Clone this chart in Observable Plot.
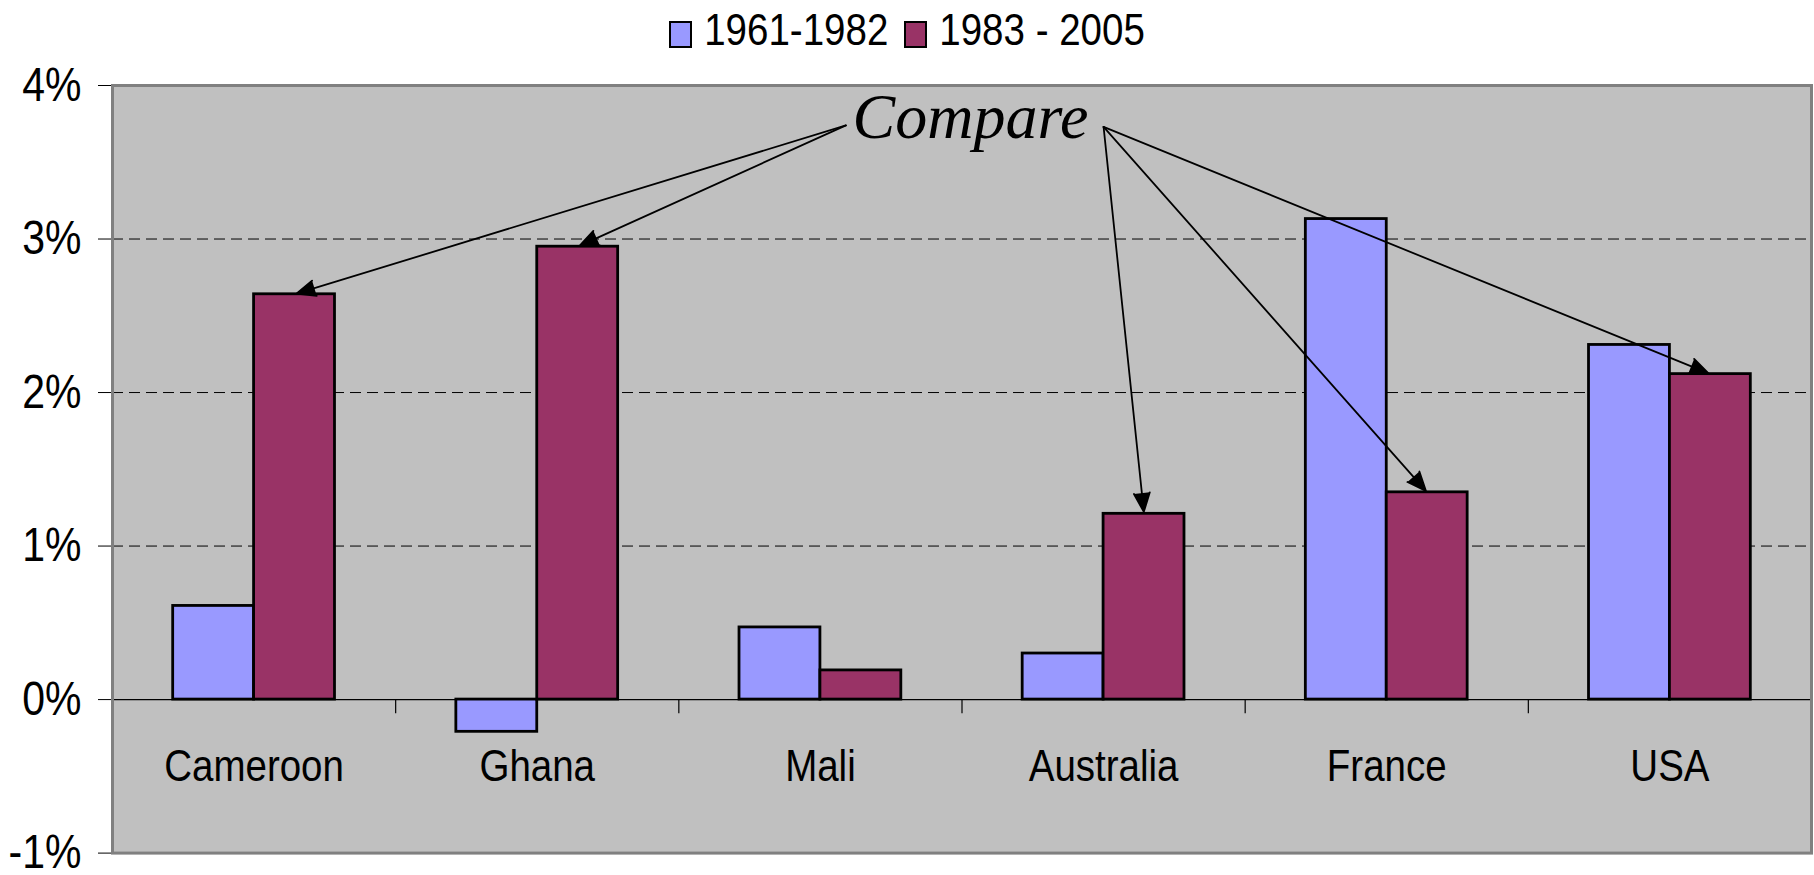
<!DOCTYPE html>
<html>
<head>
<meta charset="utf-8">
<script src="https://cdn.jsdelivr.net/npm/d3@7"></script>
<script src="https://cdn.jsdelivr.net/npm/@observablehq/plot@0.6"></script>
<style>
  body { margin: 0; background: #fff; font-family: "Liberation Sans", Arial, sans-serif; overflow: hidden; }
  #legend { height: 60px; display: flex; justify-content: center; align-items: center; }
  #legend .item { display: flex; align-items: center; margin-right: 16px; }
  #legend .item:last-child { margin-right: 0; }
  #legend .sw { box-sizing: border-box; width: 23px; height: 27px; border: 2.5px solid #000; margin-right: 12px; margin-top: 8px; }
  #legend .lab { display: inline-block; font-size: 38.5px; line-height: 1; transform: scaleY(1.17); color: #000; }
  #chart svg { display: block; }
</style>
</head>
<body>
<div id="legend"></div>
<div id="chart"></div>
<script>
// ---- data ----
const countries = ["Cameroon", "Ghana", "Mali", "Australia", "France", "USA"];
const seriesNames = ["1961-1982", "1983 - 2005"];
const values1961 = [0.61, -0.21, 0.47, 0.30, 3.13, 2.31];
const values1983 = [2.64, 2.95, 0.19, 1.21, 1.35, 2.12];
const yTicks = [-1, 0, 1, 2, 3, 4];
const seriesColors = ["#9999FF", "#993366"];
const annotationText = "Compare";
const arrowTargets = ["Cameroon", "Ghana", "Australia", "France", "USA"];
const arrowSides = ["left", "left", "right", "right", "right"];

// ---- layout helpers ----
const gapWidth = 1.5;                 // Excel-style gap width (150%)
const barW = 1 / (2 + gapWidth);      // bar width in category units
const barStart = (i, s) => i + (gapWidth / 2 + s) * barW;
const annotation = {x: 3.03, y: 3.66, left: {x: 2.59, y: 3.74}, right: {x: 3.50, y: 3.73}};

const rows = countries.flatMap((c, i) => [
  {country: c, i, s: 0, series: seriesNames[0], value: values1961[i]},
  {country: c, i, s: 1, series: seriesNames[1], value: values1983[i]}
]);
const boundaries = d3.range(1, countries.length);

// ---- legend ----
const legend = d3.select("#legend");
seriesNames.forEach((name, k) => {
  const it = legend.append("div").attr("class", "item");
  it.append("div").attr("class", "sw").style("background", seriesColors[k]);
  it.append("span").attr("class", "lab").text(name);
});

// ---- chart ----
const chart = Plot.plot({
  width: 1814,
  height: 815,
  marginTop: 25,
  marginBottom: 22.4,
  marginLeft: 112,
  marginRight: 3,
  style: {fontFamily: "'Liberation Sans', Arial, sans-serif", background: "transparent", overflow: "visible"},
  x: {type: "linear", domain: [0, countries.length], axis: null},
  y: {domain: [-1, 4], label: null},
  color: {type: "ordinal", domain: seriesNames, range: seriesColors},
  marks: [
    Plot.frame({fill: "#C0C0C0", stroke: null}),
    Plot.gridY([1, 2, 3], {stroke: "#000", strokeOpacity: 1, strokeWidth: 1, strokeDasharray: "11,6"}),
    Plot.ruleY([0], {stroke: "#000", strokeWidth: 1.2}),
    Plot.ruleX(boundaries, {y1: 0, y2: -0.092, stroke: "#000", strokeWidth: 1.2}),
    Plot.rect(rows, {
      x1: d => barStart(d.i, d.s),
      x2: d => barStart(d.i, d.s) + barW,
      y1: 0,
      y2: "value",
      fill: "series",
      stroke: "#000",
      strokeWidth: 2.8
    }),
    Plot.text(countries, {
      x: (d, i) => i + 0.5,
      y: 0,
      dy: 67,
      text: d => d,
      fontSize: 38.5,
      fill: "#000",
      textAnchor: "middle",
      lineAnchor: "middle"
    }),
    Plot.arrow(arrowTargets, {
      x1: (d, j) => annotation[arrowSides[j]].x,
      y1: (d, j) => annotation[arrowSides[j]].y,
      x2: d => barStart(countries.indexOf(d), 1) + barW / 2,
      y2: d => values1983[countries.indexOf(d)],
      stroke: "#000",
      fill: "#000",
      strokeWidth: 1.8,
      headLength: 17,
      headAngle: 46,
      insetEnd: 2
    }),
    Plot.text([annotationText], {
      x: annotation.x,
      y: annotation.y,
      text: d => d,
      fontFamily: "'Liberation Serif', 'Times New Roman', serif",
      fontStyle: "italic",
      fontSize: 64,
      fill: "#000",
      textAnchor: "middle",
      lineAnchor: "bottom"
    }),
    Plot.axisY(yTicks, {
      tickFormat: d => d + "%",
      tickSize: 14,
      tickPadding: 17,
      fontSize: 41,
      stroke: "#000",
      fill: "#000",
      label: null
    }),
    Plot.frame({stroke: "#808080", strokeWidth: 3})
  ]
});

// stretch the sans-serif labels vertically, as in the original picture
d3.select(chart).selectAll("text").each(function () {
  if (this.textContent === annotationText) return;
  const t = this.getAttribute("transform");
  if (t) {
    this.setAttribute("transform", t + " scale(1,1.17)");
  } else {
    const x = +this.getAttribute("x") || 0, y = +this.getAttribute("y") || 0;
    this.removeAttribute("x"); this.removeAttribute("y");
    this.setAttribute("transform", `translate(${x},${y}) scale(1,1.17)`);
  }
});

document.getElementById("chart").appendChild(chart);
</script>
</body>
</html>
